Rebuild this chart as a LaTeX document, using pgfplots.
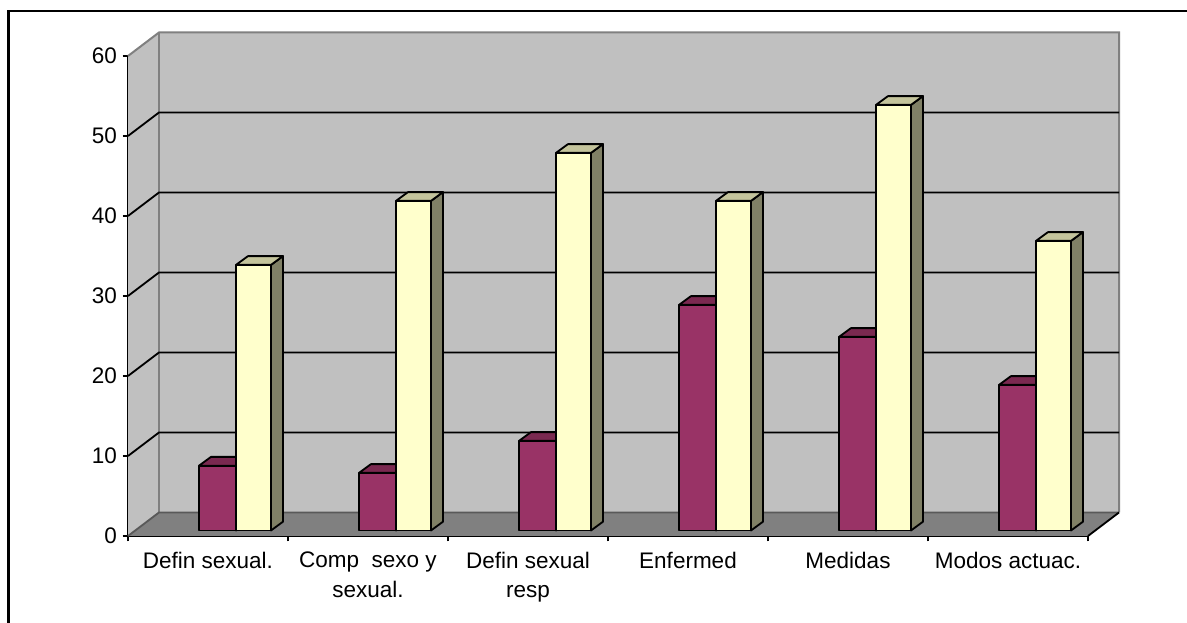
\documentclass[border=0pt]{standalone}
\usepackage{pgfplots}
\usepackage{pgfplotstable}
\usepackage{fontspec}
\setmainfont{Liberation Sans}
\pgfplotsset{compat=1.18}

% one reference pixel = 0.6pt; x axis 160px per category, y axis 8px per unit
\definecolor{wall}{HTML}{C0C0C0}
\definecolor{floorc}{HTML}{808080}
\definecolor{plum}{HTML}{993366}
\definecolor{plumtop}{HTML}{7A2950}
\definecolor{cream}{HTML}{FFFFCC}
\definecolor{creamtop}{HTML}{C4C49C}
\definecolor{creamside}{HTML}{808066}

\pgfplotstableread{
cat a    b
0   8.1  33.2
1   7.2  41.2
2   11.2 47.2
3   28.2 41.2
4   24.2 53.2
5   18.2 36.2
}\datatable

\newcommand{\threedbar}[5]{% left, right, value, front colour, top colour
  \pgfmathsetmacro{\xa}{#1}
  \pgfmathsetmacro{\xb}{#2}
  \pgfmathsetmacro{\xc}{#1+0.075}
  \pgfmathsetmacro{\xd}{#2+0.075}
  \pgfmathsetmacro{\ya}{0.6875}
  \pgfmathsetmacro{\yb}{#3+0.6875}
  \pgfmathsetmacro{\yc}{#3+0.6875+1.1}
  \pgfmathsetmacro{\ye}{0.6875+1.1}
  \addplot[draw=black, line width=1.1pt, fill=creamside, line join=round]
    coordinates {(\xb,\ya) (\xd,\ye) (\xd,\yc) (\xb,\yb)} -- cycle;
  \addplot[draw=black, line width=1.1pt, fill=#5, line join=round]
    coordinates {(\xa,\yb) (\xc,\yc) (\xd,\yc) (\xb,\yb)} -- cycle;
  \addplot[draw=black, line width=1.1pt, fill=#4, line join=round]
    coordinates {(\xa,\ya) (\xa,\yb) (\xb,\yb) (\xb,\ya)} -- cycle;
}

\begin{document}
\begin{tikzpicture}
\useasboundingbox (0,0) rectangle (712.2pt,373.8pt);
% outer frame, only its left and top edges show
\draw[black, line width=1.3pt] (5.1pt,0pt) -- (5.1pt,367.2pt) -- (712.2pt,367.2pt);

\begin{axis}[
    at={(76.8pt,52.2pt)},
    anchor=origin,
    scale only axis,
    width=576pt,
    height=288pt,
    xmin=0, xmax=6,
    ymin=0, ymax=60,
    clip=false,
    axis lines*=left,
    axis line style={black, line width=1.1pt},
    xtick={0,1,2,3,4,5,6},
    ytick={0,10,20,30,40,50,60},
    x tick label as interval,
    xticklabels={Defin sexual.,Comp\ \ sexo y\\sexual.,Defin sexual\\resp,Enfermed,Medidas,Modos actuac.},
    x tick label style={align=center, font=\fontsize{13.5pt}{17.6pt}\selectfont, anchor=north, yshift=-3pt},
    y tick label style={font=\fontsize{13.5pt}{15pt}\selectfont},
    tick align=outside,
    major tick length=3.2pt,
    tick style={black, line width=1.1pt},
    /pgf/number format/assume math mode=true,
]
% walls and floor
\addplot[draw=none, fill=wall] coordinates {(0,0) (0.19375,2.94) (0.19375,62.94) (0,60)} -- cycle;
\addplot[draw=none, fill=wall] coordinates {(0.19375,2.94) (6.19375,2.94) (6.19375,62.94) (0.19375,62.94)} -- cycle;
\addplot[draw=none, fill=floorc] coordinates {(0,0) (0.19375,2.94) (6.19375,2.94) (6,0)} -- cycle;
% wall edges
\addplot[draw=floorc, line width=1.2pt] coordinates {(0,60) (0.19375,62.94) (6.19375,62.94) (6.19375,2.94)};
\addplot[draw=floorc, line width=1.2pt] coordinates {(0.19375,62.94) (0.19375,2.94)};
\addplot[draw=black!65, line width=1.1pt] coordinates {(0,0) (0.19375,2.94) (6.19375,2.94)};
\addplot[draw=black, line width=1.1pt] coordinates {(6,0) (6.19375,2.94)};
% grid lines, back wall and left wall
\pgfplotsinvokeforeach{10,20,30,40,50}{
  \addplot[draw=black, line width=1.1pt] coordinates {(0,#1) (0.19375,#1+2.94) (6.19375,#1+2.94)};
}
% bars
\pgfplotsinvokeforeach{0,...,5}{
  \pgfplotstablegetelem{#1}{a}\of\datatable
  \let\va\pgfplotsretval
  \pgfplotstablegetelem{#1}{b}\of\datatable
  \let\vb\pgfplotsretval
  \threedbar{#1+0.44375}{#1+0.675}{\va}{plum}{plumtop}
  \threedbar{#1+0.675}{#1+0.89375}{\vb}{cream}{creamtop}
}
\end{axis}
\end{tikzpicture}
\end{document}
